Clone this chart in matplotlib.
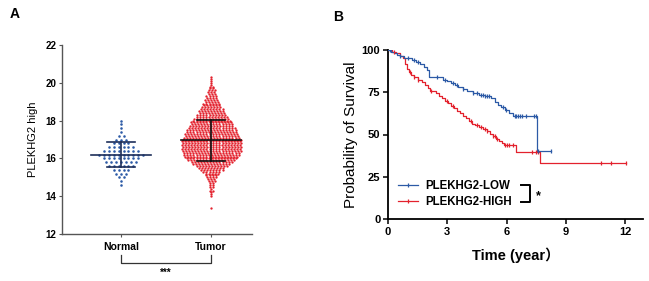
import numpy as np
import matplotlib
matplotlib.use("Agg")
import matplotlib.pyplot as plt
from matplotlib.lines import Line2D

plt.rcParams['font.family'] = ['Liberation Sans', 'Noto Sans CJK SC', 'DejaVu Sans']

# ---------------- Panel A data ----------------
groups = ["Normal", "Tumor"]
normal_levels = [14.6, 14.8, 15.0, 15.2, 15.4, 15.6, 15.8, 16.0, 16.2, 16.4,
                 16.6, 16.8, 17.0, 17.2, 17.4, 17.6, 17.8, 18.0]
normal_counts = [1, 1, 2, 3, 4, 6, 7, 8, 10, 8, 6, 4, 3, 2, 1, 1, 1, 1]
tumor_levels = [13.4, 14.0, 14.1, 14.2, 14.3, 14.4, 14.5, 14.6, 14.7, 14.8,
                14.9, 15.0, 15.1, 15.2, 15.3, 15.4, 15.5, 15.6, 15.7, 15.8,
                15.9, 16.0, 16.1, 16.2, 16.3, 16.4, 16.5, 16.6, 16.7, 16.8,
                16.9, 17.0, 17.1, 17.2, 17.3, 17.4, 17.5, 17.6, 17.7, 17.8,
                17.9, 18.0, 18.1, 18.2, 18.3, 18.4, 18.5, 18.6, 18.7, 18.8,
                18.9, 19.0, 19.1, 19.2, 19.3, 19.4, 19.5, 19.6, 19.7, 19.8,
                19.9, 20.0, 20.1, 20.2, 20.3]
tumor_counts = [1, 1, 1, 1, 2, 1, 2, 2, 2, 3,
                3, 4, 4, 5, 6, 8, 9, 11, 13, 14,
                16, 17, 18, 19, 19, 20, 20, 20, 20, 20,
                20, 20, 19, 18, 18, 17, 17, 16, 15, 14,
                14, 13, 12, 11, 10, 9, 9, 8, 7, 6,
                6, 5, 5, 4, 4, 3, 3, 3, 2, 2,
                1, 1, 1, 1, 1]
group_means = [16.2, 16.95]
group_sds = [0.67, 1.08]

# ---------------- Panel B data ----------------
low_t = [0, 0.15, 0.3, 0.45, 0.6, 0.8, 1.0, 1.2, 1.4, 1.6, 1.8, 1.95, 2.05,
         2.8, 3.0, 3.2, 3.4, 3.55, 3.8, 4.0, 4.3, 4.6, 4.9, 5.2, 5.4, 5.55,
         5.7, 5.9, 6.1, 6.3, 7.55]
low_s = [100, 99, 98, 97, 96.5, 95.5, 95, 94, 93, 91.5, 90, 88, 84,
         82.5, 81.5, 80.5, 79.5, 78, 77, 75.5, 74.5, 73.5, 72.5, 71.5, 69.5, 67.5,
         66, 64.5, 63, 61, 40.5]
low_end = 8.24
low_censor = [0.1, 0.6, 1.0, 1.3, 1.5, 2.5, 2.9, 3.3, 3.5, 3.8, 4.3, 4.5, 4.7,
              4.8, 4.9, 5.0, 5.1, 5.8, 5.95, 6.4, 6.5, 6.6, 6.7, 6.8, 7.0,
              7.4, 7.5, 7.6, 8.24]

high_t = [0, 0.2, 0.4, 0.6, 0.75, 0.85, 0.95, 1.05, 1.15, 1.3, 1.5, 1.7, 1.85,
          2.0, 2.1, 2.45, 2.6, 2.75, 2.9, 3.05, 3.2, 3.35, 3.5, 3.65, 3.8,
          3.95, 4.1, 4.25, 4.4, 4.6, 4.8, 5.0, 5.15, 5.3, 5.45, 5.6, 5.75,
          5.85, 6.45, 7.68]
high_s = [100, 99, 98, 96.5, 95, 92, 89, 87, 85.5, 84, 82.5, 81, 79,
          77.5, 76, 74.5, 73, 71.5, 70, 68.5, 67, 65.5, 64, 62.5, 61,
          59.5, 58, 56.5, 55.5, 54.5, 53.5, 52, 50.5, 49, 47.5, 46, 45,
          44, 39.5, 33.3]
high_end = 12.05
high_censor = [0.3, 1.1, 1.3, 1.5, 2.2, 3.0, 3.3, 4.2, 4.5, 4.7, 4.9, 5.0,
               5.3, 5.4, 5.5, 5.9, 6.0, 6.1, 6.3, 7.3, 7.5, 7.6, 10.8, 11.3, 12.05]

legend_labels = ["PLEKHG2-LOW", "PLEKHG2-HIGH"]

BLUE = "#2c5aa6"
RED = "#e3212d"

W, H = 649, 281
fig = plt.figure(figsize=(W / 100, H / 100), dpi=100)


def px_axes(x0, y0, x1, y1):
    return fig.add_axes([x0 / W, 1 - y1 / H, (x1 - x0) / W, (y1 - y0) / H])


# ---------------- Panel A ----------------
axA = px_axes(62, 45, 252, 234)
axA.set_xlim(-0.656, 1.455)
axA.set_ylim(12, 22)

swarm = [(normal_levels, normal_counts, BLUE, 0.055),
         (tumor_levels, tumor_counts, RED, 0.034)]
for gi, (levels, counts, col, dx) in enumerate(swarm):
    xs, ys = [], []
    for ri, (lv, n) in enumerate(zip(levels, counts)):
        shift = (dx / 4) * (ri % 2) if (n > 1 and gi == 1) else 0
        for k in range(n):
            xs.append(gi + (k - (n - 1) / 2) * dx + shift)
            ys.append(lv)
    axA.scatter(xs, ys, s=3.4 if gi == 0 else 2.8, color=col, linewidths=0, zorder=2)

line_cols = ["#1e2f5a", "#111111"]
for gi in range(2):
    m, sd = group_means[gi], group_sds[gi]
    axA.plot([gi - 0.33, gi + 0.33], [m, m], color=line_cols[gi], lw=1.2, zorder=3)
    axA.plot([gi, gi], [m - sd, m + sd], color=line_cols[gi], lw=1.2, zorder=3)
    for yv in (m - sd, m + sd):
        axA.plot([gi - 0.16, gi + 0.16], [yv, yv], color=line_cols[gi], lw=1.2, zorder=3)

for s in ("top", "right"):
    axA.spines[s].set_visible(False)
for s in ("left", "bottom"):
    axA.spines[s].set_color("#555555")
    axA.spines[s].set_linewidth(1.0)
axA.set_yticks([12, 14, 16, 18, 20, 22])
axA.set_xticks([0, 1])
axA.set_xticklabels(groups, fontsize=7.5, fontweight="bold")
axA.tick_params(axis="y", length=2.5, width=0.8, color="#555555", labelsize=7, pad=1.5)
axA.tick_params(axis="x", length=2.5, width=0.8, color="#555555", pad=3)
for lab in axA.get_yticklabels():
    lab.set_fontweight("bold")
axA.set_ylabel("PLEKHG2 high", fontsize=8, labelpad=5)

# significance bracket below
axA.plot([0, 0, 1, 1], [10.9, 10.45, 10.45, 10.9], color="#333333", lw=0.9, clip_on=False)
axA.text(0.5, 9.95, "***", ha="center", va="center", fontsize=7, fontweight="bold")

fig.text(10 / W, 1 - 14 / H, "A", fontsize=10, fontweight="bold", ha="left", va="center")

# ---------------- Panel B ----------------
axB = px_axes(388, 50, 643, 219)
axB.set_xlim(0, 12.9)
axB.set_ylim(0, 100)


def km_draw(ts, ss, end, cens, col):
    tt = list(ts) + [end]
    sv = list(ss) + [ss[-1]]
    axB.step(tt, sv, where="post", color=col, lw=0.9, zorder=3)
    idx = np.searchsorted(np.array(ts), np.array(cens), side="right") - 1
    cy = np.array(ss)[idx]
    axB.plot(cens, cy, ls="none", marker="|", ms=3.5, mew=0.9, color=col, zorder=4)


km_draw(high_t, high_s, high_end, high_censor, RED)
km_draw(low_t, low_s, low_end, low_censor, BLUE)

for s in ("top", "right"):
    axB.spines[s].set_visible(False)
for s in ("left", "bottom"):
    axB.spines[s].set_linewidth(1.3)
axB.set_xticks([0, 3, 6, 9, 12])
axB.set_yticks([0, 25, 50, 75, 100])
axB.tick_params(length=3.5, width=1.1, labelsize=8, pad=2)
for lab in axB.get_xticklabels() + axB.get_yticklabels():
    lab.set_fontweight("bold")
axB.set_xlabel("Time (year）", fontsize=10.5, fontweight="bold", labelpad=8)
axB.set_ylabel("Probability of Survival", fontsize=11, labelpad=3)

handles = [Line2D([], [], color=BLUE, lw=0.9, marker="|", ms=3.5, mew=0.9),
           Line2D([], [], color=RED, lw=0.9, marker="|", ms=3.5, mew=0.9)]
leg = axB.legend(handles, legend_labels, loc="lower left", bbox_to_anchor=(0.02, 0.04),
                 frameon=False, prop={"size": 8.3, "weight": "bold"},
                 handlelength=1.8, handletextpad=0.6, labelspacing=0.35, borderaxespad=0)

# bracket with star next to legend
bx = 530
by0, by1 = 185, 202
fig.add_artist(Line2D([(bx - 9) / W, bx / W, bx / W, (bx - 9) / W],
                      [1 - by0 / H, 1 - by0 / H, 1 - by1 / H, 1 - by1 / H],
                      color="black", lw=1.4))
fig.text(536 / W, 1 - 196 / H, "*", fontsize=9, fontweight="bold", ha="left", va="center")

fig.text(333 / W, 1 - 17 / H, "B", fontsize=10, fontweight="bold", ha="left", va="center")

fig.savefig("out.png", dpi=100)
